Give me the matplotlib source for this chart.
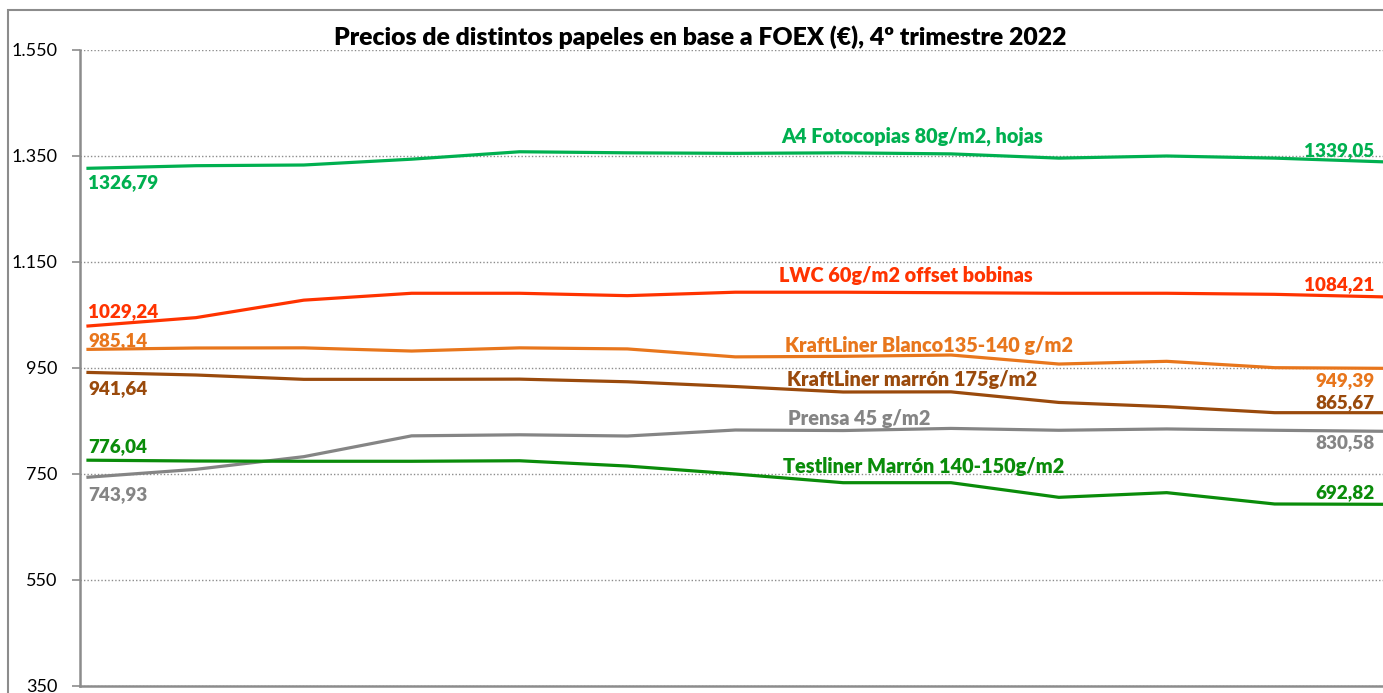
import numpy as np
import matplotlib
matplotlib.use('Agg')
import matplotlib.pyplot as plt
from matplotlib.patches import Rectangle
from matplotlib.ticker import FuncFormatter

plt.rcParams['font.family'] = ['Lato', 'DejaVu Sans']

# weekly FOEX prices, Q4 2022 (13 weeks)
weeks = np.arange(13)

a4_fotocopias = [1326.79, 1331.7, 1333.0, 1344.0, 1358.0, 1356.0, 1355.0, 1356.0, 1354.0, 1346.0, 1350.0, 1346.0, 1339.05]
lwc_offset = [1029.24, 1045.0, 1078.0, 1091.0, 1091.0, 1086.5, 1093.0, 1093.0, 1092.0, 1091.0, 1091.0, 1089.0, 1084.21]
kraft_blanco = [985.14, 987.7, 988.0, 982.0, 988.0, 986.0, 971.0, 972.0, 974.5, 957.5, 962.6, 950.6, 949.39]
kraft_marron = [941.64, 936.8, 928.6, 928.6, 929.0, 924.0, 915.0, 904.7, 905.0, 885.0, 877.0, 865.7, 865.67]
prensa = [743.93, 758.8, 782.7, 822.0, 824.0, 821.7, 833.0, 832.0, 836.0, 832.5, 835.0, 832.5, 830.58]
testliner = [776.04, 774.5, 774.0, 774.0, 775.0, 765.0, 750.0, 733.6, 733.6, 706.0, 714.8, 693.4, 692.82]

names = ['A4 Fotocopias 80g/m2, hojas', 'LWC 60g/m2 offset bobinas', 'KraftLiner Blanco135-140 g/m2',
         'KraftLiner marrón 175g/m2', 'Prensa 45 g/m2', 'Testliner Marrón 140-150g/m2']
first_lbl = ['1326,79', '1029,24', '985,14', '941,64', '743,93', '776,04']
last_lbl = ['1339,05', '1084,21', '949,39', '865,67', '830,58', '692,82']

series = [a4_fotocopias, lwc_offset, kraft_blanco, kraft_marron, prensa, testliner]
colors = ['#00B050', '#FF3300', '#E8761C', '#9A4A0C', '#858585', '#0A8C0A']

# label placement (data coords for names, pixel offsets for the end values)
name_pos = [(7.64, 1387), (7.58, 1125), (7.80, 993), (7.64, 929), (7.15, 854), (7.75, 765)]
first_off = [-14, 14, 9, -16, -17, 14]
last_off = [11, 12, -12, 10, -11, 12]

fig = plt.figure(figsize=(13.83, 6.93), dpi=100)
ax = fig.add_axes([80/1383, 7/693, 1 - 80/1383, 636/693])

# chart area border
fig.add_artist(Rectangle((8/1383, -0.05), 1.2, 1.05 - 10/693, transform=fig.transFigure,
                         fill=False, edgecolor='#8C8C8C', lw=1.5))

for i in range(len(series)):
    ax.plot(weeks, series[i], color=colors[i], lw=2.3, solid_joinstyle='round', zorder=3)
    ax.text(name_pos[i][0], name_pos[i][1], names[i], color=colors[i], fontsize=14.3,
            fontweight='heavy', ha='center', va='center')
    ax.annotate(first_lbl[i], xy=(weeks[0], series[i][0]), xytext=(0, first_off[i]),
                textcoords='offset pixels', ha='left', va='center', color=colors[i],
                fontsize=13.6, fontweight='heavy')
    ax.annotate(last_lbl[i], xy=(weeks[-1], series[i][-1]), xytext=(-8, last_off[i]),
                textcoords='offset pixels', ha='right', va='center', color=colors[i],
                fontsize=13.6, fontweight='heavy')

ax.set_ylim(350, 1550)
ax.set_yticks(np.arange(350, 1551, 200))
ax.yaxis.set_major_formatter(FuncFormatter(lambda v, p: f'{int(v):,}'.replace(',', '.')))
ax.set_xlim(-8/107.9, 12.005)
ax.set_xticks([])
ax.grid(axis='y', color='#8C8C8C', linestyle=(0, (1, 1.5)), lw=1.0)
ax.set_axisbelow(True)
for s in ['top', 'right']:
    ax.spines[s].set_visible(False)
for s in ['left', 'bottom']:
    ax.spines[s].set_color('#8C8C8C')
    ax.spines[s].set_linewidth(1.8)
ax.tick_params(axis='y', direction='out', length=6, width=1.2, color='#8C8C8C',
               labelsize=13, pad=10)

fig.text(0.506, 1 - 37/693, 'Precios de distintos papeles en base a FOEX (€), 4º trimestre 2022',
         ha='center', va='center', fontsize=17.8, fontweight='heavy')

fig.savefig('out.png', dpi=100)
